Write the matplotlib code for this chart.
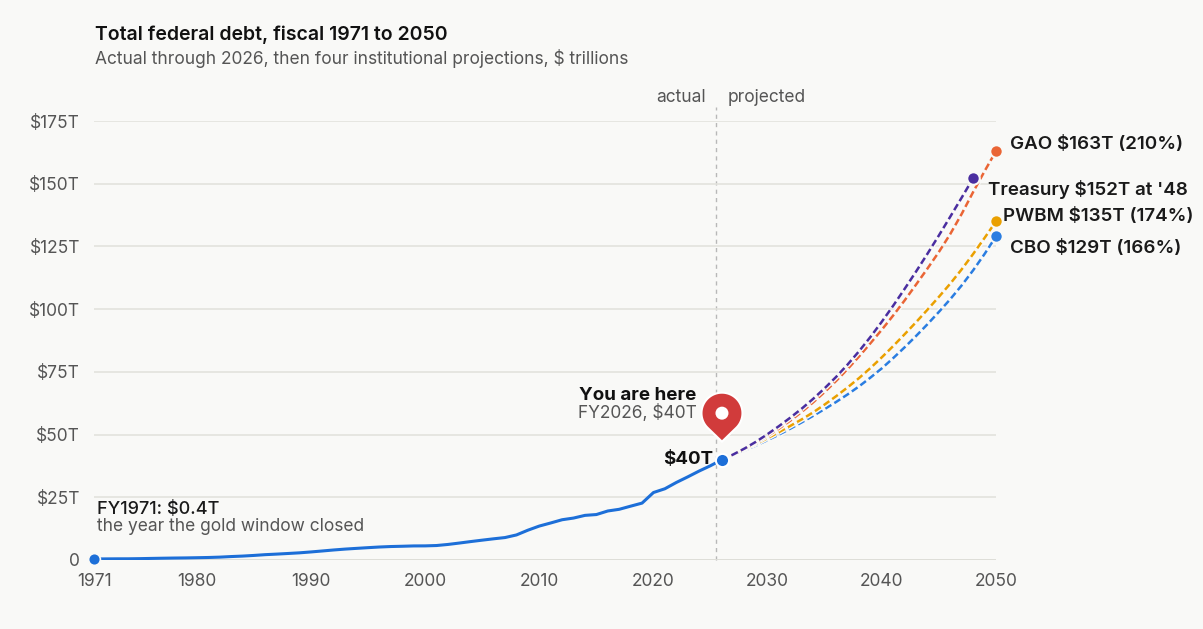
import numpy as np
import matplotlib.pyplot as plt
import matplotlib.patheffects as pe
from matplotlib.path import Path
from matplotlib.patches import PathPatch, Circle
from matplotlib.transforms import ScaledTranslation

plt.rcParams['font.family'] = ['Inter', 'DejaVu Sans']

# actual total federal debt, $ trillions, FY1971-FY2026
actual_years = list(range(1971, 2027))
actual_debt = [0.41, 0.44, 0.47, 0.48, 0.54, 0.63, 0.71, 0.78, 0.83, 0.91,
               1.00, 1.14, 1.37, 1.56, 1.82, 2.13, 2.35, 2.60, 2.86, 3.21,
               3.60, 4.00, 4.35, 4.64, 4.92, 5.18, 5.37, 5.48, 5.61, 5.63,
               5.77, 6.20, 6.76, 7.35, 7.91, 8.45, 8.95, 9.99, 11.88, 13.53,
               14.76, 16.05, 16.72, 17.79, 18.12, 19.54, 20.21, 21.46, 22.68, 26.90,
               28.40, 30.90, 33.13, 35.46, 37.60, 40.00]

# projections
proj_years = list(range(2026, 2051))
cbo = [40, 41.8, 43.7, 45.7, 47.8, 50.0, 52.4, 54.9, 57.5, 60.2, 63.0, 66.0, 69.2,
       72.7, 76.4, 80.5, 84.8, 89.3, 94.0, 98.9, 104.0, 109.5, 115.5, 122.0, 129.0]
pwbm = [40, 42.0, 44.1, 46.3, 48.6, 51.0, 53.5, 56.1, 58.9, 62.0, 65.3, 68.8, 72.5,
        76.5, 80.8, 85.3, 90.0, 94.8, 99.8, 104.9, 110.2, 115.9, 122.0, 128.4, 135.0]
gao = [40, 42.0, 44.3, 46.8, 49.5, 52.4, 55.6, 59.1, 62.9, 67.0, 71.4, 76.1, 81.1,
       86.4, 91.8, 97.5, 103.5, 109.8, 116.2, 122.8, 130.0, 138.0, 146.7, 155.0, 163.0]
treas_years = list(range(2026, 2049))
treasury = [40, 42.1, 44.5, 47.2, 50.2, 53.4, 56.8, 60.4, 64.3, 68.5, 73.0, 77.9,
            83.2, 88.9, 95.0, 101.4, 108.1, 115.0, 122.1, 129.4, 136.9, 144.5, 152.2]

end_labels = ["GAO $163T (210%)", "Treasury $152T at '48", "PWBM $135T (174%)", "CBO $129T (166%)"]

x_ticks = [1971, 1980, 1990, 2000, 2010, 2020, 2030, 2040, 2050]
y_ticks = [0, 25, 50, 75, 100, 125, 150, 175]
y_labels = ['0', '$25T', '$50T', '$75T', '$100T', '$125T', '$150T', '$175T']

bg = '#f9f9f7'
c_actual = '#1d6fd8'
c_cbo = '#2a7de1'
c_pwbm = '#eaa000'
c_gao = '#ea6535'
c_treas = '#4a2ea0'
c_pin = '#d13b3b'

fig = plt.figure(figsize=(12.03, 6.29), dpi=100, facecolor=bg)
ax = fig.add_axes([94/1203, 69/629, 902/1203, 439/629], facecolor=bg)

ax.set_xlim(1971, 2050)
ax.set_ylim(0, 175)
for s in ax.spines.values():
    s.set_visible(False)
ax.set_yticks(y_ticks)
ax.set_yticklabels(y_labels)
ax.set_xticks(x_ticks)
ax.tick_params(length=0, labelsize=12.5, colors='#555555', pad=10)
ax.tick_params(axis='x', pad=9)
ax.grid(axis='y', color='#e3e3dd', lw=1.2)
ax.grid(axis='x', visible=False)
ax.axhline(0, color='#c9c9c1', lw=1.4, zorder=1)

# actual / projected divider
ax.plot([2025.5, 2025.5], [0, 180.5], color='#b8b8b8', lw=1, ls=(0, (3, 3)), clip_on=False, zorder=1)
ax.text(2024.6, 181, 'actual', ha='right', va='bottom', fontsize=12.5, color='#555555')
ax.text(2026.5, 181, 'projected', ha='left', va='bottom', fontsize=12.5, color='#555555')

halo = [pe.Stroke(linewidth=3.8, foreground=bg), pe.Normal()]
for yrs, vals, col in [(proj_years, cbo, c_cbo), (proj_years, pwbm, c_pwbm),
                       (proj_years, gao, c_gao), (treas_years, treasury, c_treas)]:
    ax.plot(yrs, vals, color=col, lw=1.8, ls=(0, (2.8, 1.4)), zorder=3, path_effects=halo)
    ax.plot(yrs[-1], vals[-1], 'o', color=col, ms=9, mec=bg, mew=1.5, zorder=5, clip_on=False)

ax.plot(actual_years, actual_debt, color=c_actual, lw=2.2, zorder=4, solid_capstyle='round')
ax.plot(actual_years[0], actual_debt[0], 'o', color=c_actual, ms=8.5, mec=bg, mew=1.2, zorder=5, clip_on=False)
ax.plot(actual_years[-1], actual_debt[-1], 'o', color=c_actual, ms=9.5, mec='white', mew=1.5, zorder=6)

# end labels
lab_pos = [(2051.2, 165.5), (2049.3, 147.5), (2050.6, 137.0), (2051.2, 124.0)]
for (lx, ly), t in zip(lab_pos, end_labels):
    ax.text(lx, ly, t, ha='left', va='center', fontsize=13.5, fontweight='semibold',
            color='#1a1a1a', clip_on=False)

ax.text(2025.2, 40, '$40T', ha='right', va='center', fontsize=13.5, fontweight='bold', color='#111111')
ax.text(2023.8, 65.5, 'You are here', ha='right', va='center', fontsize=13.5, fontweight='bold', color='#111111')
ax.text(2023.8, 58.5, 'FY2026, $40T', ha='right', va='center', fontsize=12.5, color='#555555')
ax.text(1971.3, 20.2, 'FY1971: $0.4T', ha='left', va='center', fontsize=13, fontweight='medium', color='#1a1a1a')
ax.text(1971.3, 13.5, 'the year the gold window closed', ha='left', va='center', fontsize=12.5, color='#555555')

# map pin, drawn in inches relative to the FY2026 point
r, cy, tip = 0.205, 0.465, 0.18
a = np.degrees(np.arccos(r / (cy - tip)))
ang = np.radians(np.linspace(-90 + a, 270 - a, 60))
verts = [(r * np.cos(t), cy + r * np.sin(t)) for t in ang] + [(0, tip), (r * np.cos(ang[0]), cy + r * np.sin(ang[0]))]
pin = Path(verts, [Path.MOVETO] + [Path.LINETO] * (len(verts) - 2) + [Path.CLOSEPOLY])
tr = fig.dpi_scale_trans + ScaledTranslation(2026, 40, ax.transData)
ax.add_patch(PathPatch(pin, facecolor=c_pin, edgecolor='white', lw=1.5, transform=tr, zorder=7, clip_on=False))
ax.add_patch(Circle((0, cy), 0.065, facecolor='white', edgecolor='none', transform=tr, zorder=8, clip_on=False))

fig.text(95/1203, 1 - 35/629, 'Total federal debt, fiscal 1971 to 2050', ha='left', va='center',
         fontsize=14, fontweight='semibold', color='#111111')
fig.text(95/1203, 1 - 59/629, 'Actual through 2026, then four institutional projections, $ trillions',
         ha='left', va='center', fontsize=12.5, color='#555555')

fig.savefig('out.png', dpi=100, facecolor=bg)
